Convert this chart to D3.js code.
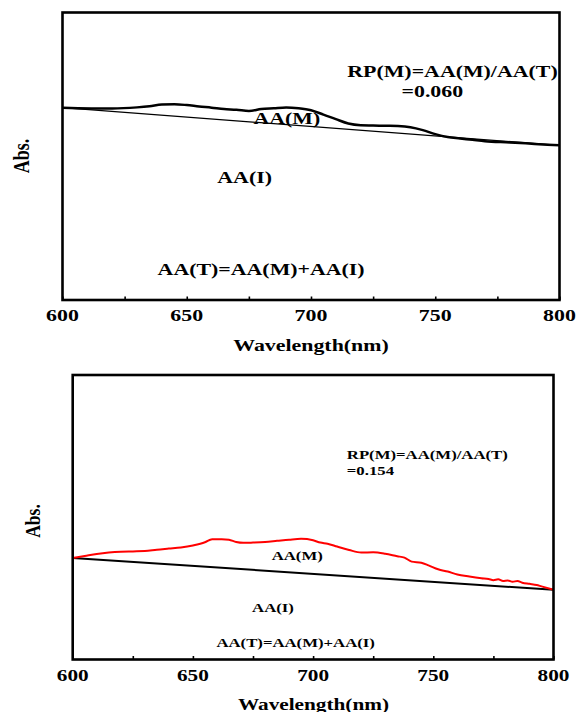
<!DOCTYPE html>
<html>
<head>
<meta charset="utf-8">
<script src="https://cdn.jsdelivr.net/npm/d3@7"></script>
<style>
  html, body { margin: 0; padding: 0; background: #fff; }
  svg { display: block; }
  text { font-family: "Liberation Serif", "Times New Roman", serif; font-weight: bold; fill: #000; }
</style>
</head>
<body>
<svg id="chart" width="578" height="712"></svg>
<script>
// ---------- data ----------
const xTickLabels = [600, 650, 700, 750, 800];
const xMinorTicks = [600, 625, 650, 675, 700, 725, 750, 775, 800];

// Top panel: measured spectrum (black) and straight baseline AA(I)
const topWavelength = [600, 620, 630, 635, 640, 645, 650, 655, 660, 665, 670, 675, 680, 685, 690, 695, 700, 705, 710, 715, 720, 725, 730, 735, 740, 745, 750, 755, 760, 765, 770, 780, 790, 800];
const topAbs = [0.669, 0.666, 0.670, 0.674, 0.680, 0.681, 0.678, 0.673, 0.669, 0.664, 0.662, 0.657, 0.664, 0.667, 0.670, 0.667, 0.660, 0.645, 0.629, 0.614, 0.608, 0.607, 0.606, 0.605, 0.601, 0.591, 0.577, 0.567, 0.562, 0.557, 0.552, 0.548, 0.543, 0.538];
const topBaseWavelength = [600, 800];
const topBaseAbs = [0.669, 0.538];

// Bottom panel: measured spectrum (red) and straight baseline AA(I)
const botWavelength = [600, 605, 610, 615, 620, 625, 630, 635, 640, 645, 650, 655, 658, 662, 665, 668, 671, 675, 680, 685, 690, 695, 700, 703, 706, 710, 715, 720, 725, 730, 735, 738, 741, 745, 748, 752, 756, 760, 765, 770, 773, 775, 777, 779, 781, 783, 785, 787, 790, 793, 795, 800];
const botAbs = [0.357, 0.364, 0.371, 0.376, 0.379, 0.380, 0.381, 0.386, 0.390, 0.394, 0.401, 0.412, 0.423, 0.423, 0.421, 0.413, 0.410, 0.411, 0.413, 0.417, 0.421, 0.424, 0.419, 0.411, 0.407, 0.397, 0.385, 0.376, 0.377, 0.372, 0.363, 0.358, 0.344, 0.340, 0.331, 0.317, 0.309, 0.299, 0.292, 0.286, 0.283, 0.279, 0.282, 0.276, 0.278, 0.273, 0.276, 0.270, 0.266, 0.262, 0.257, 0.245];
const botBaseWavelength = [600, 800];
const botBaseAbs = [0.357, 0.245];

const topLabels = ["RP(M)=AA(M)/AA(T)", "=0.060", "AA(M)", "AA(I)", "AA(T)=AA(M)+AA(I)"];
const botLabels = ["RP(M)=AA(M)/AA(T)", "=0.154", "AA(M)", "AA(I)", "AA(T)=AA(M)+AA(I)"];
const xTitle = "Wavelength(nm)";
const yTitle = "Abs.";

// ---------- drawing ----------
const svg = d3.select("#chart");
const STRETCH = 1.25;

function stretchedText(parent, x, y, str, size, anchor, rotate) {
  const g = parent.append("g")
    .attr("transform", `translate(${x},${y}) scale(${STRETCH},1)` + (rotate ? ` rotate(${rotate})` : ""));
  g.append("text")
    .attr("text-anchor", anchor || "start")
    .attr("font-size", size)
    .text(str);
  return g;
}

function panel(cfg) {
  const x = d3.scaleLinear().domain([600, 800]).range([cfg.left, cfg.right]);
  const y = d3.scaleLinear().domain([0, 1]).range([cfg.bottom, cfg.top]);
  const g = svg.append("g");

  // inward tick marks on the bottom axis
  const axis = d3.axisBottom(x).tickValues(xMinorTicks).tickSize(-3.5).tickFormat("");
  const ax = g.append("g").attr("transform", `translate(0,${cfg.bottom})`).call(axis);
  ax.select(".domain").remove();
  ax.selectAll(".tick line").attr("stroke", "#000").attr("stroke-width", 1.6);

  // baseline (AA(I) boundary)
  const line = d3.line().x((d, i) => x(d[0])).y(d => y(d[1]));
  g.append("path")
    .datum(cfg.baseW.map((w, i) => [w, cfg.baseA[i]]))
    .attr("d", line)
    .attr("fill", "none")
    .attr("stroke", "#000")
    .attr("stroke-width", cfg.baseWidth);

  // spectrum
  const curve = d3.line().curve(d3.curveMonotoneX).x(d => x(d[0])).y(d => y(d[1]));
  g.append("path")
    .datum(cfg.w.map((w, i) => [w, cfg.a[i]]))
    .attr("d", curve)
    .attr("fill", "none")
    .attr("stroke", cfg.color)
    .attr("stroke-width", cfg.curveWidth)
    .attr("stroke-linejoin", "round");

  // frame
  g.append("rect")
    .attr("x", cfg.left).attr("y", cfg.top)
    .attr("width", cfg.right - cfg.left).attr("height", cfg.bottom - cfg.top)
    .attr("fill", "none").attr("stroke", "#000").attr("stroke-width", 2.6);

  // tick labels
  xTickLabels.forEach(v => stretchedText(g, x(v), cfg.tickY, String(v), cfg.tickSize, "middle"));

  // axis titles
  stretchedText(g, cfg.titleX, cfg.titleY, xTitle, cfg.tickSize, "middle");
  stretchedText(g, cfg.absX, cfg.absY, yTitle, cfg.absSize, "middle", -90);

  // annotations
  cfg.labels.forEach((s, i) => stretchedText(g, cfg.labelPos[i][0], cfg.labelPos[i][1], s, cfg.labelSize, "start"));
}

panel({
  left: 62.5, right: 559.5, top: 12.5, bottom: 300,
  w: topWavelength, a: topAbs, baseW: topBaseWavelength, baseA: topBaseAbs,
  color: "#000", curveWidth: 2.5, baseWidth: 1.3,
  tickY: 321, tickSize: 17.5,
  titleX: 311, titleY: 351,
  absX: 29, absY: 156, absSize: 18,
  labels: topLabels, labelSize: 17.5,
  labelPos: [[347.3, 77], [401.5, 96.5], [253.4, 124], [217.3, 183], [157.6, 274.5]]
});

panel({
  left: 72.7, right: 553.5, top: 375, bottom: 659.5,
  w: botWavelength, a: botAbs, baseW: botBaseWavelength, baseA: botBaseAbs,
  color: "#f00", curveWidth: 2, baseWidth: 2,
  tickY: 680.5, tickSize: 17,
  titleX: 313.5, titleY: 709.5,
  absX: 40, absY: 521, absSize: 17.5,
  labels: botLabels, labelSize: 13.4,
  labelPos: [[346.8, 458.5], [346.8, 475], [271.7, 560], [252.1, 612], [216.4, 647]]
});
</script>
</body>
</html>
